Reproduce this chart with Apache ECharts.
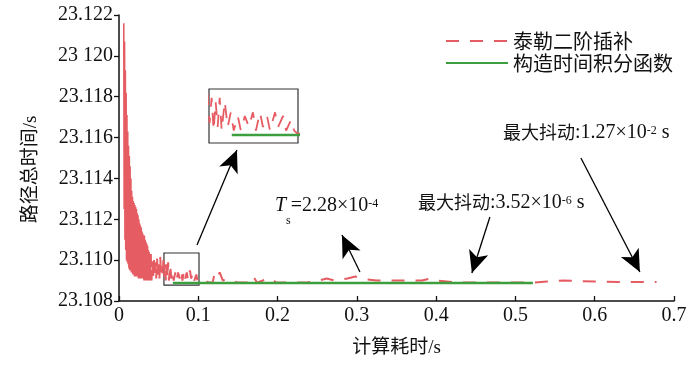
<!DOCTYPE html>
<html><head><meta charset="utf-8">
<script src="https://cdn.jsdelivr.net/npm/echarts@6/dist/echarts.min.js"></script>
<style>html,body{margin:0;padding:0;background:#fff}#c{width:700px;height:366px}</style>
</head><body><div id="c"></div>
<script>
// ---- data ----
const taylorX = [0.0060,0.0065,0.0070,0.0075,0.0080,0.0085,0.0090,0.0095,0.0100,0.0105,0.0110,0.0115,0.0120,0.0125,0.0130,0.0135,0.0140,0.0145,0.0150,0.0155,0.0160,0.0165,0.0170,0.0175,0.0180,0.0185,0.0190,0.0195,0.0200,0.0205,0.0210,0.0215,0.0220,0.0225,0.0230,0.0235,0.0240,0.0245,0.0250,0.0255,0.0260,0.0265,0.0270,0.0275,0.0280,0.0285,0.0290,0.0295,0.0300,0.0305,0.0310,0.0315,0.0320,0.0325,0.0330,0.0335,0.0340,0.0345,0.0350,0.0355,0.0360,0.0365,0.0370,0.0375,0.0380,0.0385,0.0390,0.0395,0.0400,
  0.041,0.042,0.043,0.044,0.045,0.046,0.047,0.048,0.049,0.050,0.051,0.052,0.053,0.054,0.055,0.056,0.057,0.058,0.059,0.060,0.061,0.062,0.063,0.0645,0.066,0.0675,0.069,0.071,0.0725,0.0745,0.0765,0.0785,0.080,0.082,0.0835,0.0855,0.087,0.0895,0.091,0.0935,0.095,0.0975,0.099,0.101,0.108,0.114,0.118,0.121,0.124,0.127,0.131,0.136,0.142,0.150,0.165,0.1695,0.174,0.188,0.193,0.198,0.215,0.235,0.252,0.262,0.272,0.288,0.298,0.304,0.325,0.350,0.370,0.382,0.392,0.401,0.430,0.460,0.490,0.520,0.540,0.560,0.580,0.600,0.630,0.660,0.678];
const taylorY = [23.1216,23.1125,23.1207,23.1110,23.1193,23.1105,23.1182,23.1100,23.1171,23.1099,23.1163,23.1098,23.1156,23.1096,23.1151,23.1095,23.1146,23.1095,23.1140,23.1094,23.1134,23.1094,23.1131,23.1093,23.1129,23.1093,23.1128,23.1092,23.1127,23.1092,23.1126,23.1092,23.1125,23.1092,23.1123,23.1092,23.1122,23.1091,23.1120,23.1091,23.1118,23.1091,23.1117,23.1091,23.1116,23.1091,23.1114,23.1091,23.1113,23.1091,23.1112,23.1090,23.1112,23.1090,23.1110,23.1090,23.1109,23.1090,23.1108,23.1090,23.1107,23.1090,23.1105,23.1090,23.1104,23.1090,23.1103,23.1090,23.1103,
  23.1090,23.1100,23.1090,23.1102,23.1091,23.1099,23.1091,23.1101,23.1091,23.1098,23.1091,23.1102,23.1092,23.1097,23.1092,23.1100,23.1092,23.1099,23.1090,23.1098,23.1091,23.1099,23.1090,23.1098,23.1091,23.1095,23.1090,23.1094,23.1090,23.1094,23.1091,23.1095,23.1090,23.1095,23.1091,23.1094,23.1090,23.1095,23.1091,23.1094,23.1090,23.1093,23.1090,23.1089,23.1090,23.1089,23.1089,23.1094,23.1092,23.1094,23.1090,23.1091,23.1090,23.1089,23.1089,23.1092,23.1089,23.1091,23.1091,23.1089,23.1089,23.1089,23.1090,23.1091,23.1090,23.1091,23.1092,23.1091,23.1090,23.1090,23.1090,23.1090,23.1091,23.1090,23.1089,23.1089,23.1089,23.1089,23.10895,23.10900,23.10898,23.10895,23.10893,23.10893,23.10893];
const integralX = [0.068,0.15,0.25,0.35,0.45,0.522];
const integralY = [23.10888,23.10888,23.10888,23.10888,23.10888,23.10888];
const xTickLabels = ['0','0.1','0.2','0.3','0.4','0.5','0.6','0.7'];
const yTickLabels = ['23.108','23.110','23.112','23.114','23.116','23.118','23 120','23.122'];
const seriesNames = ['泰勒二阶插补','构造时间积分函数'];
// where the oscillation is so dense that the dashes merge into a solid band
const denseEndX = 0.040;
// annotation arrows (data coordinates)
const arrowFromX = [0.0984,0.3039,0.4678,0.5826];
const arrowFromY = [23.11074,23.10942,23.11211,23.1150];
const arrowToX = [0.1488,0.2812,0.4451,0.657];
const arrowToY = [23.11539,23.11123,23.10937,23.10942];
// zoomed region
const zoomBoxX = [0.0567,0.1009];
const zoomBoxY = [23.10878,23.11035];
const insetY = [23.10866,23.11014];

const RED = '#e65c63', GREEN = '#3d9e3d';
const SERIF = "'Liberation Serif','Noto Sans CJK SC',serif";
const taylor = taylorX.map((x,i)=>[x,taylorY[i]]);
const taylorDense = taylor.filter(p=>p[0]<=denseEndX);
const taylorSparse = taylor.filter(p=>p[0]>=denseEndX);
const integral = integralX.map((x,i)=>[x,integralY[i]]);

const richBase = {
  c:{fontFamily:"'Noto Sans CJK SC'",fontSize:18,lineHeight:24,verticalAlign:'top',fill:'#111'},
  n:{fontFamily:SERIF,fontSize:20,lineHeight:24,verticalAlign:'top',fill:'#111'},
  i:{fontFamily:SERIF,fontSize:20,fontStyle:'italic',lineHeight:24,verticalAlign:'top',fill:'#111'},
  sub:{fontFamily:SERIF,fontSize:12,lineHeight:12,verticalAlign:'top',padding:[19,0,0,0],fill:'#111'},
  sup:{fontFamily:SERIF,fontSize:12,lineHeight:12,verticalAlign:'top',padding:[2,0,0,0],fill:'#111'}
};

const chart = echarts.init(document.getElementById('c'));
chart.setOption({
  animation:false,
  backgroundColor:'#fff',
  grid:[
    {left:119,top:15,right:26,bottom:65},
    {left:209,top:89,width:89,height:54,show:true,borderColor:'#333',borderWidth:1.2,backgroundColor:'#fff',z:5}
  ],
  legend:{
    orient:'vertical',left:440,top:26,itemWidth:62,itemHeight:14,itemGap:2,
    data:seriesNames,
    itemStyle:{color:'rgba(0,0,0,0)',borderWidth:0,opacity:0},
    textStyle:{fontFamily:"'Noto Sans CJK SC'",fontSize:20,lineHeight:20,color:'#111'}
  },
  xAxis:[
    {type:'value',gridIndex:0,min:0,max:0.7,interval:0.1,
     name:'计算耗时/s',nameLocation:'middle',nameGap:38,
     nameTextStyle:{fontFamily:SERIF,fontSize:19,color:'#111'},
     axisLine:{lineStyle:{color:'#111',width:1.5}},
     axisTick:{inside:true,length:5,lineStyle:{color:'#111',width:1.3}},
     axisLabel:{fontFamily:SERIF,fontSize:20,color:'#111',margin:5,
       formatter:(v)=>xTickLabels[Math.round(v/0.1)] ?? ''},
     splitLine:{show:false}},
    {type:'value',gridIndex:1,min:zoomBoxX[0],max:zoomBoxX[1],show:false}
  ],
  yAxis:[
    {type:'value',gridIndex:0,min:23.108,max:23.122,interval:0.002,
     name:'路径总时间/s',nameLocation:'middle',nameGap:78,
     nameTextStyle:{fontFamily:SERIF,fontSize:19,color:'#111',padding:[0,23,0,0]},
     axisLine:{show:true,lineStyle:{color:'#111',width:1.5}},
     axisTick:{show:true,length:5,lineStyle:{color:'#111',width:1.3}},
     axisLabel:{fontFamily:SERIF,fontSize:20,color:'#111',margin:6,
       formatter:(v)=>yTickLabels[Math.round((v-23.108)/0.002)] ?? ''},
     splitLine:{show:false}},
    {type:'value',gridIndex:1,min:insetY[0],max:insetY[1],show:false}
  ],
  series:[
    {type:'line',name:seriesNames[0],xAxisIndex:0,yAxisIndex:0,data:taylorSparse,symbol:'none',z:2,
     lineStyle:{color:RED,width:2,type:[13,11]},itemStyle:{color:RED}},
    {type:'line',name:seriesNames[0],xAxisIndex:0,yAxisIndex:0,data:taylorDense,symbol:'none',z:2,
     lineStyle:{color:RED,width:1.6},itemStyle:{color:RED}},
    {type:'line',name:seriesNames[1],xAxisIndex:0,yAxisIndex:0,data:integral,symbol:'none',z:3,
     lineStyle:{color:GREEN,width:2.6},itemStyle:{color:GREEN},
     markArea:{silent:true,label:{show:false},
       itemStyle:{color:'rgba(0,0,0,0)',borderColor:'#333',borderWidth:1.2},
       data:[[{coord:[zoomBoxX[0],zoomBoxY[1]]},{coord:[zoomBoxX[1],zoomBoxY[0]]}]]},
     markLine:{silent:true,symbol:['none','arrow'],symbolSize:[1,22],label:{show:false},
       lineStyle:{color:'#000',width:1.3,type:'solid'},
       emphasis:{disabled:true},
       data:arrowFromX.map((x,i)=>[
         {coord:[x,arrowFromY[i]],symbol:'none'},
         {coord:[arrowToX[i],arrowToY[i]],symbol:'arrow',symbolSize:[15,22]}
       ])}},
    {type:'line',name:seriesNames[0],xAxisIndex:1,yAxisIndex:1,data:taylorSparse,symbol:'none',z:6,clip:true,
     lineStyle:{color:RED,width:1.8,type:[13,11]},itemStyle:{color:RED}},
    {type:'line',name:seriesNames[1],xAxisIndex:1,yAxisIndex:1,data:integral,symbol:'none',z:7,clip:true,
     lineStyle:{color:GREEN,width:2.6},itemStyle:{color:GREEN}}
  ],
  graphic:[
    {type:'text',left:275,top:196,z:10,style:{text:'{i|T}{sub|s}{n|=2.28×10}{sup|-4}',rich:richBase}},
    {type:'text',left:418,top:193,z:10,style:{text:'{c|最大抖动}{n|:3.52×10}{sup|-6}{n| s}',rich:richBase}},
    {type:'text',left:503,top:123,z:10,style:{text:'{c|最大抖动}{n|:1.27×10}{sup|-2}{n| s}',rich:richBase}}
  ]
});
</script>
</body></html>
